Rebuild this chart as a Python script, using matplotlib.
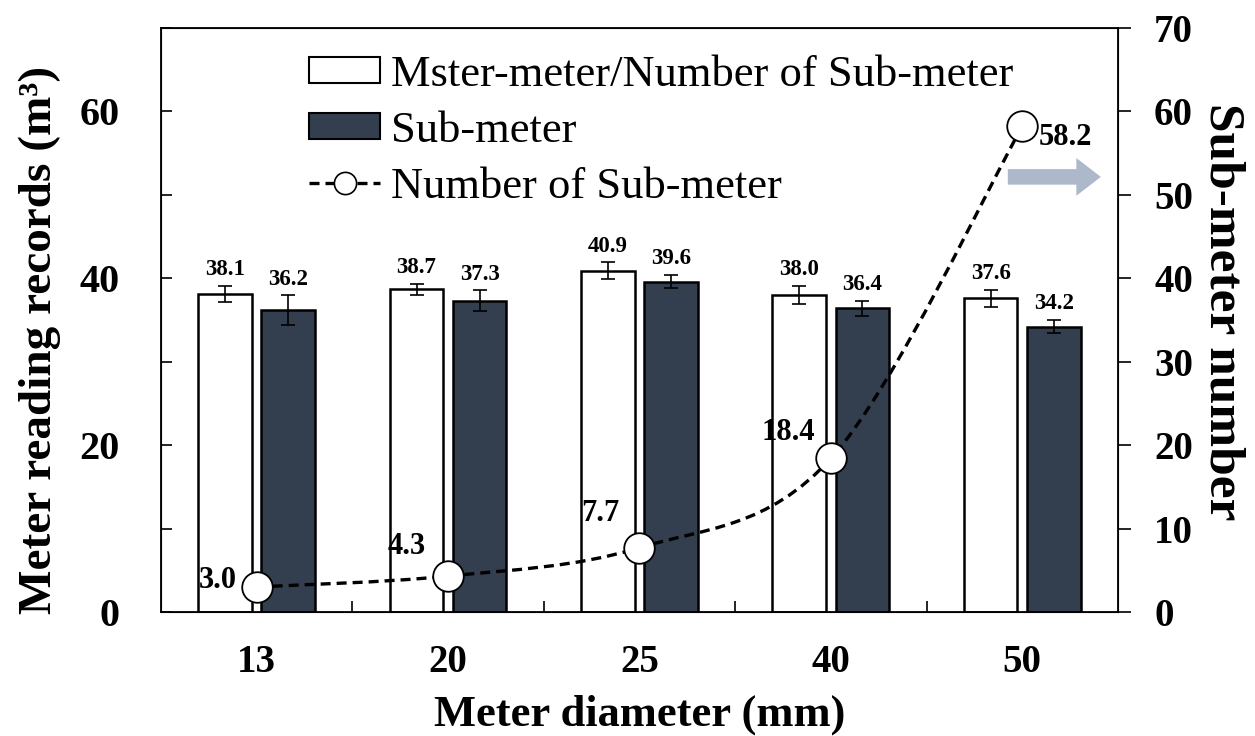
import numpy as np
import matplotlib
matplotlib.use("Agg")
import matplotlib.pyplot as plt
from matplotlib.patches import Patch, PathPatch
from matplotlib.lines import Line2D
from matplotlib.path import Path
from matplotlib.ticker import MultipleLocator, FixedLocator

plt.rcParams["font.family"] = ["Liberation Serif", "DejaVu Serif"]

# data
diameters = ["13", "20", "25", "40", "50"]
master_per_sub = [38.1, 38.7, 40.9, 38.0, 37.6]
master_err = [1.0, 0.65, 1.0, 1.1, 1.0]
sub_meter = [36.2, 37.3, 39.6, 36.4, 34.2]
sub_err = [1.75, 1.25, 0.8, 0.9, 0.8]
n_sub = [3.0, 4.3, 7.7, 18.4, 58.2]
# label offsets (points) for the sub-meter count annotations
n_label_off = [(-28, 5), (-30, 21), (-28, 25), (-31, 19), (31, -8)]

DARK = "#333F4F"
ARROW = "#ADB9CA"
W, OFF = 0.28, 0.165

fig = plt.figure(figsize=(12.55, 7.36), dpi=100)
ax = fig.add_axes([0.1283, 0.1685, 0.7625, 0.7935])
ax2 = ax.twinx()
ax2.set_zorder(ax.get_zorder() + 1)
ax2.patch.set_visible(False)

x = np.arange(len(diameters))
# fills first, outlines on top (the count labels sit between the two)
for xs, vals, fc in ((x - OFF, master_per_sub, "white"), (x + OFF, sub_meter, DARK)):
    ax.bar(xs, vals, W, color=fc, lw=0, zorder=2)
    ax.bar(xs, vals, W, fc="none", ec="black", lw=1.8, zorder=4)
ax.errorbar(x - OFF, master_per_sub, yerr=master_err, fmt="none", ecolor="black",
            elinewidth=1.2, capsize=5, capthick=1.2, zorder=5)
ax.errorbar(x + OFF, sub_meter, yerr=sub_err, fmt="none", ecolor="black",
            elinewidth=1.2, capsize=5, capthick=1.2, zorder=5)
for xi, v, e in zip(x - OFF, master_per_sub, master_err):
    ax.annotate(f"{v:.1f}", (xi, v + e), xytext=(0, 4), textcoords="offset points",
                ha="center", va="bottom", fontsize=16.5, fontweight="bold", zorder=6)
for xi, v, e in zip(x + OFF, sub_meter, sub_err):
    ax.annotate(f"{v:.1f}", (xi, v + e), xytext=(0, 4), textcoords="offset points",
                ha="center", va="bottom", fontsize=16.5, fontweight="bold", zorder=6)
for xi, v, off in zip(x, n_sub, n_label_off):
    ax.annotate(f"{v:.1f}", (xi, v), xytext=off, textcoords="offset points",
                ha="center", va="center", fontsize=22, fontweight="bold", zorder=3)

ax.set_xlim(-0.5, 4.5)
ax.set_ylim(0, 70)
ax.set_xticks(x)
ax.set_xticklabels(diameters)
ax.xaxis.set_minor_locator(FixedLocator(x[:-1] + 0.5))
ax.tick_params(axis="x", which="major", length=0, pad=23, labelsize=28)
ax.tick_params(axis="x", which="minor", direction="in", length=8, width=1.2)
ax.yaxis.set_major_locator(MultipleLocator(20))
ax.yaxis.set_minor_locator(MultipleLocator(10))
ax.tick_params(axis="y", which="both", direction="in", length=8, width=1.2)
ax.tick_params(axis="y", which="major", pad=30, labelsize=29)
for lab in ax.get_xticklabels() + ax.get_yticklabels():
    lab.set_fontweight("bold")
for sp in ax.spines.values():
    sp.set_linewidth(1.3)

ax.set_xlabel("Meter diameter (mm)", fontsize=32, fontweight="bold", labelpad=10)
ax.set_ylabel("Meter reading records (m\u00b3)", fontsize=34, fontweight="bold")
ax.yaxis.set_label_coords(-0.104, 0.466)

# smoothed line (Catmull-Rom style Bezier through the data points)
pts = np.column_stack([x, n_sub]).astype(float)
verts, codes = [pts[0]], [Path.MOVETO]
for i in range(len(pts) - 1):
    p0 = pts[max(i - 1, 0)]
    p1, p2 = pts[i], pts[i + 1]
    p3 = pts[min(i + 2, len(pts) - 1)]
    verts += [p1 + (p2 - p0) / 6, p2 - (p3 - p1) / 6, p2]
    codes += [Path.CURVE4] * 3
curve = PathPatch(Path(verts, codes), fc="none", ec="black", lw=2.4,
                  ls=(0, (3, 1.8)), zorder=4)
ax2.add_patch(curve)
ax2.plot(x, n_sub, ls="none", marker="o", ms=22, mfc="white", mec="black",
         mew=1.3, zorder=5)

ax2.set_ylim(0, 70)
ax2.yaxis.set_major_locator(MultipleLocator(10))
ax2.tick_params(axis="y", direction="out", length=9, width=1.2, pad=17, labelsize=28)
for lab in ax2.get_yticklabels():
    lab.set_fontweight("bold")
ax2.set_ylabel("Sub-meter number", fontsize=37, fontweight="bold", rotation=-90)
ax2.yaxis.set_label_coords(1.133, 0.515)

# arrow pointing at the right-hand axis
ax2.annotate("", xy=(0.985, 0.745), xytext=(0.882, 0.745), xycoords="axes fraction",
             arrowprops=dict(arrowstyle="simple,head_length=1.1,head_width=1.7,tail_width=0.7",
                             fc=ARROW, ec="none", mutation_scale=16))

handles = [
    Patch(fc="white", ec="black", lw=1.5),
    Patch(fc=DARK, ec="black", lw=1.5),
    Line2D([], [], color="black", lw=2.4, ls=(0, (3, 1.8)), marker="o", ms=16,
           mfc="white", mec="black", mew=1.2),
]
labels = ["Mster-meter/Number of Sub-meter", "Sub-meter", "Number of Sub-meter"]
ax2.legend(handles, labels, loc="upper left", bbox_to_anchor=(0.127, 1.0),
           frameon=False, fontsize=32, handlelength=1.6, handleheight=0.55,
           handletextpad=0.25, labelspacing=0.36, borderaxespad=0.2)

fig.savefig("out.png", dpi=100)
